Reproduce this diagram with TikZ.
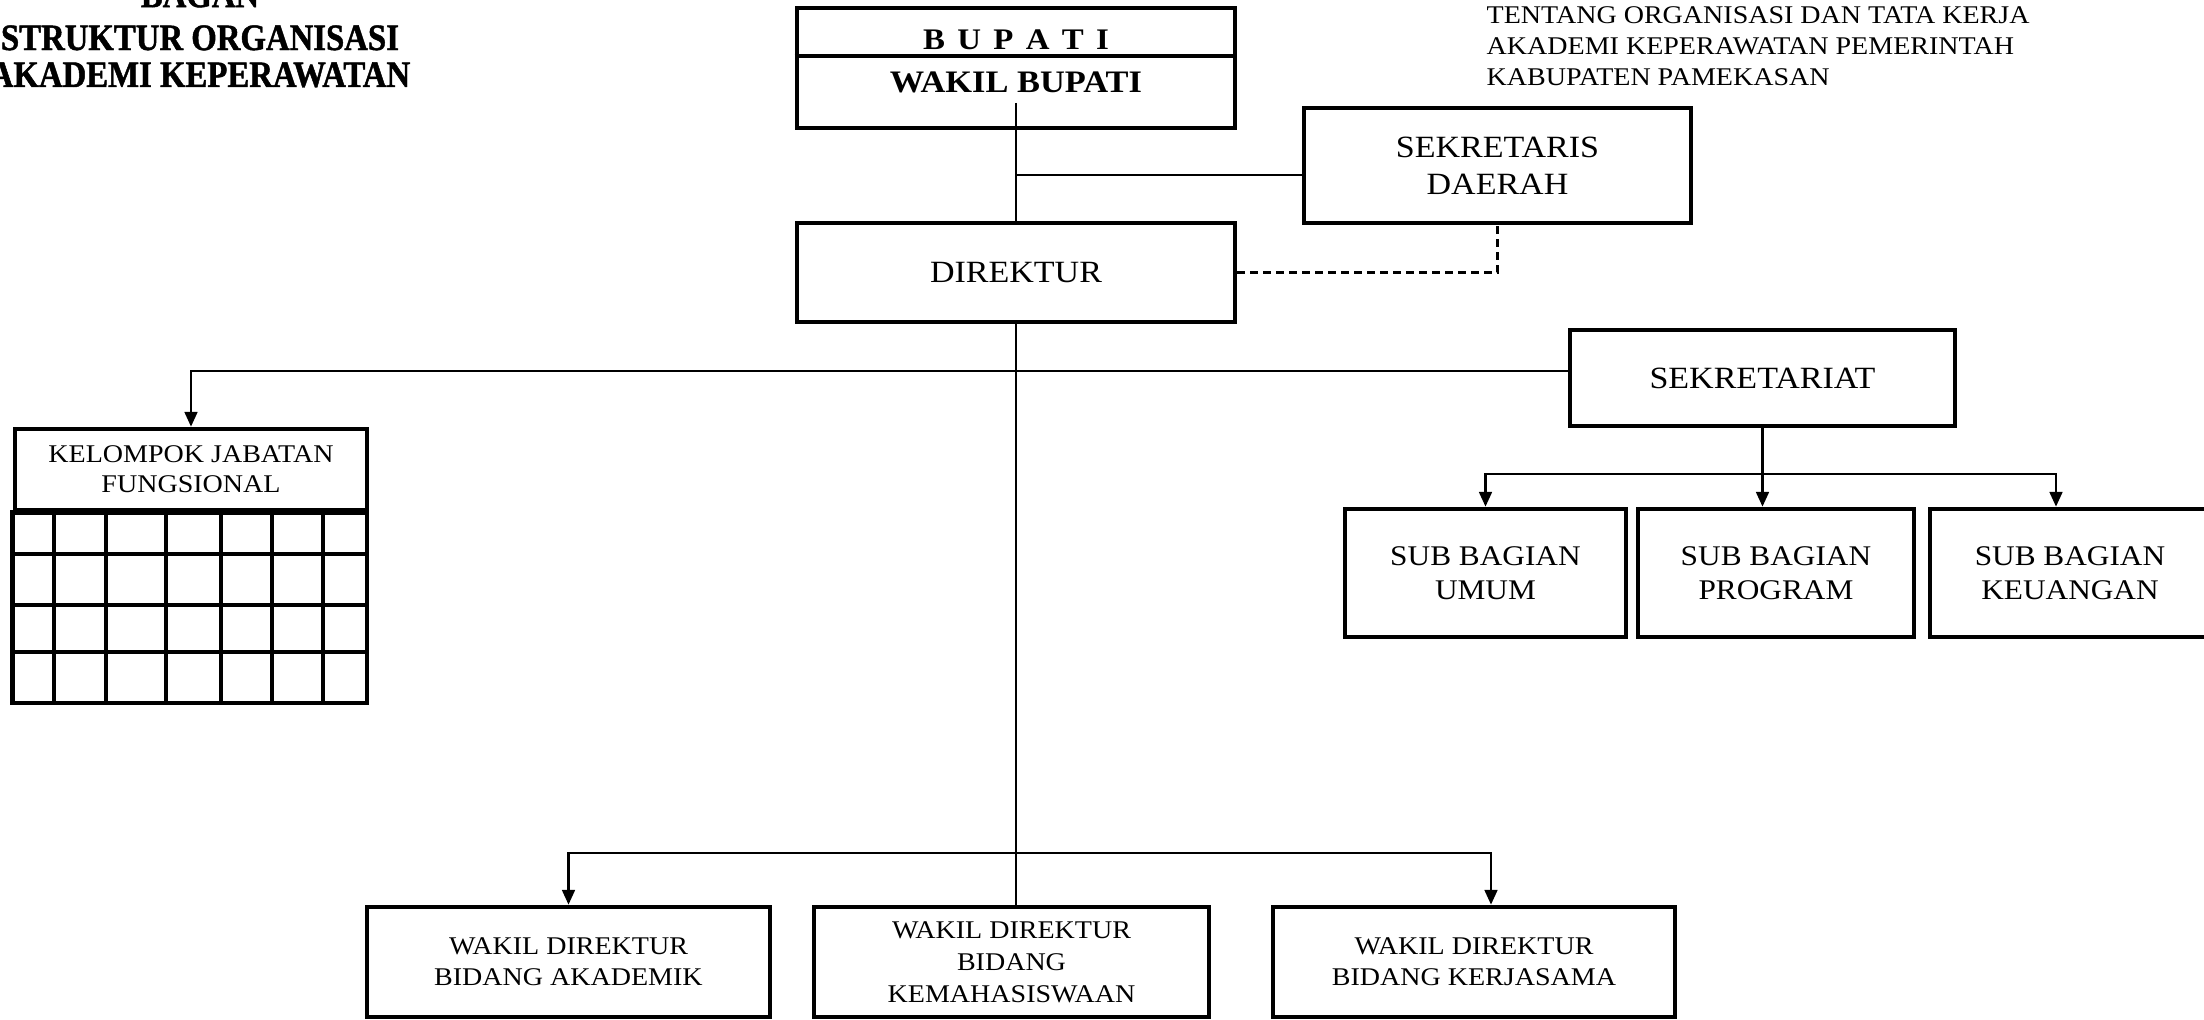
\documentclass[tikz,border=0pt]{standalone}
\usepackage{fontspec}
\setmainfont[FakeStretch=1.1]{Liberation Serif}
\newfontfamily\judulfont[FakeStretch=0.88,FakeBold=1.2]{Liberation Serif}
\usetikzlibrary{arrows.meta}

\begin{document}
\begin{tikzpicture}[
  box/.style={draw,line width=1.3pt,inner sep=0pt,align=center},
  besar/.style={box,font=\fontsize{8.8}{10.5}\selectfont},
  subbag/.style={box,minimum height=1.28cm,font=\fontsize{8.1}{9.6}\selectfont},
  wadir/.style={box,minimum height=1.10cm,font=\fontsize{7.25}{8.8}\selectfont},
  garis/.style={line width=0.75pt},
  >={Triangle[length=4.2pt,width=3.6pt]}]
\useasboundingbox (0,0) rectangle (22.04,-10.20);

% judul dan keterangan
\node[font=\judulfont\bfseries\fontsize{10.6}{10.5}\selectfont,align=center] at (2.00,-0.35) (judul) {BAGAN\\[1.7pt]STRUKTUR ORGANISASI\\AKADEMI KEPERAWATAN};
\node[font=\fontsize{7.25}{8.8}\selectfont,align=left,anchor=west,inner sep=0pt] at (14.86,-0.46) (keterangan) {TENTANG ORGANISASI DAN TATA KERJA\\AKADEMI KEPERAWATAN PEMERINTAH\\KABUPATEN PAMEKASAN};

% bupati
\node[box,minimum width=4.38cm,minimum height=1.20cm] at (10.16,-0.68) (bupati) {};
\node[font=\bfseries\fontsize{8.5}{10}\selectfont] at (10.16,-0.40) (bupatiteks) {\spaceskip=3.5pt B U P A T I};
\node[font=\bfseries\fontsize{8.9}{10}\selectfont] at (10.16,-0.82) (wabup) {WAKIL BUPATI};
\coordinate (batas) at (10.16,-0.56);
\draw[line width=0.9pt] (bupati.west |- batas) -- (bupati.east |- batas);

\node[besar,minimum width=4.38cm,minimum height=0.99cm] at (10.16,-2.725) (direktur) {DIREKTUR};
\node[besar,minimum width=3.87cm,minimum height=1.15cm] at (14.975,-1.655) (sekda) {SEKRETARIS\\DAERAH};
\node[besar,minimum width=3.85cm,minimum height=0.96cm] at (17.625,-3.78) (sekretariat) {SEKRETARIAT};

% sub bagian
\node[subbag,minimum width=2.81cm] at (14.855,-5.73) (umum) {SUB BAGIAN\\UMUM};
\node[subbag,minimum width=2.76cm] at (17.76,-5.73) (program) {SUB BAGIAN\\PROGRAM};
\node[subbag,minimum width=2.80cm] at (20.70,-5.73) (keuangan) {SUB BAGIAN\\KEUANGAN};

% kelompok jabatan fungsional
\node[box,minimum width=3.52cm,minimum height=0.81cm,font=\fontsize{7.25}{8.5}\selectfont] at (1.91,-4.695) (kjf) {KELOMPOK JABATAN\\FUNGSIONAL};
\draw[line width=1.3pt] (kjf.south west) rectangle (3.67,-7.03);
\draw[line width=0.9pt] (0.54,-5.10) -- (0.54,-7.03);
\draw[line width=0.9pt] (1.06,-5.10) -- (1.06,-7.03);
\draw[line width=0.9pt] (1.66,-5.10) -- (1.66,-7.03);
\draw[line width=0.9pt] (2.21,-5.10) -- (2.21,-7.03);
\draw[line width=0.9pt] (2.72,-5.10) -- (2.72,-7.03);
\draw[line width=0.9pt] (3.23,-5.10) -- (3.23,-7.03);
\draw[line width=0.9pt] (0.15,-5.54) -- (3.67,-5.54);
\draw[line width=0.9pt] (0.15,-6.05) -- (3.67,-6.05);
\draw[line width=0.9pt] (0.15,-6.52) -- (3.67,-6.52);

% wakil direktur
\node[wadir,minimum width=4.03cm] at (5.685,-9.62) (akademik) {WAKIL DIREKTUR\\BIDANG AKADEMIK};
\node[wadir,minimum width=3.95cm,font=\fontsize{7.25}{9.1}\selectfont] at (10.115,-9.62) (kemahasiswaan) {WAKIL DIREKTUR\\BIDANG\\KEMAHASISWAAN};
\node[wadir,minimum width=4.02cm] at (14.74,-9.62) (kerjasama) {WAKIL DIREKTUR\\BIDANG KERJASAMA};

% garis
\coordinate (mulai) at (10.16,-1.03);
\coordinate (cabsekda) at (10.16,-1.75);
\coordinate (cabsek) at (10.16,-3.71);
\coordinate (cabsub) at (17.625,-4.74);
\coordinate (cabwadir) at (10.16,-8.53);
\draw[garis] (mulai) -- (direktur.north);
\draw[garis] (cabsekda) -- (cabsekda -| sekda.west);
\draw[garis,dash pattern=on 2.3pt off 1.4pt] (direktur.east) -| (sekda.south);
\draw[garis] (direktur.south) -- (direktur.south |- kemahasiswaan.north);
\draw[garis,->] (cabsek -| sekretariat.west) -| (kjf.north);
\draw[garis,->] (sekretariat.south) -- (sekretariat.south |- program.north);
\draw[garis,->] (cabsub) -| (umum.north);
\draw[garis,->] (cabsub) -| ([xshift=-0.14cm]keuangan.north);
\draw[garis,->] (cabwadir) -| (akademik.north);
\draw[garis,->] (cabwadir) -| ([xshift=0.17cm]kerjasama.north);
\end{tikzpicture}
\end{document}
